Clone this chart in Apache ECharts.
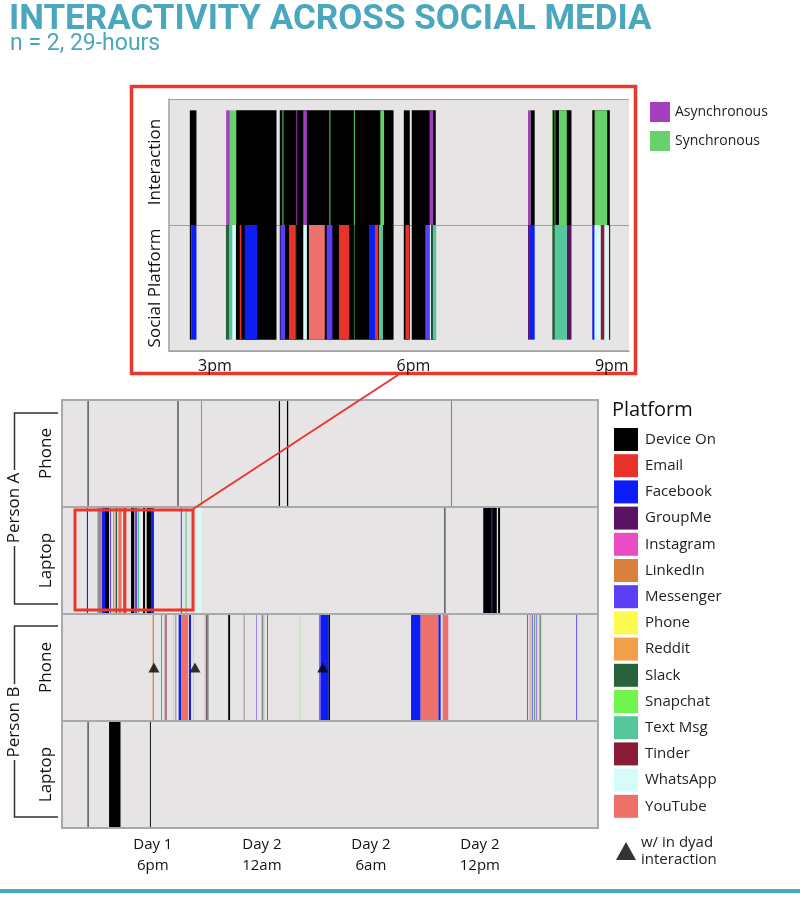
<!DOCTYPE html>
<html>
<head>
<meta charset="utf-8">
<title>Interactivity across social media</title>
<script src="https://cdn.jsdelivr.net/npm/echarts@6.0.0/dist/echarts.min.js"></script>
<style>
  html, body { margin: 0; padding: 0; background: #fff; }
  #chart { width: 800px; height: 898px; }
</style>
</head>
<body>
<div id="chart"></div>
<script>
// platforms and their colours (legend order)
var platforms = ['Device On', 'Email', 'Facebook', 'GroupMe', 'Instagram', 'LinkedIn', 'Messenger',
  'Phone', 'Reddit', 'Slack', 'Snapchat', 'Text Msg', 'Tinder', 'WhatsApp', 'YouTube'];
var platformColors = ['#000000', '#e8332a', '#0a1ef5', '#5b1262', '#e94cc4', '#d8803c', '#5b3ef6',
  '#fcf94f', '#f29f4b', '#27633a', '#70f54c', '#56c79b', '#8b1c36', '#d5fcfb', '#ee706b'];

var interactionTypes = ['Device On', 'Asynchronous', 'Synchronous'];
var interactionColors = ['#000000', '#a53dbf', '#67d26a'];

// rows of the main timeline (top to bottom)
var rowLabels = ['Phone', 'Laptop', 'Phone', 'Laptop'];
var insetRows = ['Interaction', 'Social Platform'];

// sessions: [start hour, end hour, platform], hours counted from Day 1 midnight
var aPhone = [
  [14.41, 14.46, 'Device On'], [19.36, 19.41, 'Device On'], [20.68, 20.70, 'Device On'],
  [24.93, 25.00, 'Device On'], [25.38, 25.45, 'Device On'], [34.42, 34.46, 'Messenger']
];
var aLaptop = [
  [14.37, 14.43, 'Facebook'], [14.97, 15.00, 'Device On'], [15.06, 15.12, 'Tinder'],
  [15.18, 15.37, 'Facebook'], [15.37, 15.59, 'Device On'], [15.64, 15.70, 'Messenger'],
  [15.82, 15.88, 'YouTube'], [15.95, 16.03, 'Slack'], [16.10, 16.28, 'YouTube'],
  [16.37, 16.54, 'Email'], [16.80, 16.98, 'Device On'], [17.02, 17.13, 'Messenger'],
  [17.17, 17.24, 'Text Msg'], [17.35, 17.42, 'WhatsApp'], [17.46, 17.57, 'Device On'],
  [17.66, 17.94, 'Device On'], [17.94, 18.06, 'Facebook'], [19.54, 19.60, 'Messenger'],
  [19.80, 19.86, 'Text Msg'], [20.41, 20.69, 'WhatsApp'], [34.05, 34.10, 'Device On'],
  [36.19, 36.93, 'Device On'], [36.19, 36.23, 'Facebook'], [36.64, 36.68, 'Messenger'],
  [37.00, 37.11, 'Device On']
];
var bPhone = [
  [17.99, 18.06, 'LinkedIn'], [18.47, 18.50, 'Tinder'], [18.66, 18.69, 'Device On'],
  [18.74, 18.77, 'Tinder'], [19.12, 19.15, 'Snapchat'], [19.26, 19.28, 'Device On'],
  [19.42, 19.57, 'Facebook'], [19.60, 19.95, 'YouTube'], [19.99, 20.10, 'Facebook'],
  [20.22, 20.25, 'Snapchat'], [20.86, 20.89, 'YouTube'], [20.95, 20.99, 'Device On'],
  [21.02, 21.05, 'Device On'], [22.15, 22.25, 'Device On'], [23.01, 23.03, 'Device On'],
  [23.70, 23.73, 'Messenger'], [24.00, 24.03, 'Device On'], [24.09, 24.13, 'Text Msg'],
  [24.29, 24.33, 'Slack'], [26.08, 26.11, 'Snapchat'], [27.16, 27.24, 'Messenger'],
  [27.24, 27.66, 'Facebook'], [27.66, 27.75, 'Device On'], [32.21, 32.74, 'Facebook'],
  [32.74, 33.71, 'YouTube'], [33.71, 33.84, 'Facebook'], [33.95, 34.26, 'YouTube'],
  [38.60, 38.65, 'Messenger'], [38.74, 38.78, 'LinkedIn'], [38.86, 38.90, 'Facebook'],
  [39.00, 39.04, 'Slack'], [39.11, 39.15, 'Messenger'], [39.25, 39.29, 'LinkedIn'],
  [39.33, 39.37, 'Slack'], [41.30, 41.35, 'Messenger']
];
var bLaptop = [
  [14.41, 14.46, 'Device On'], [15.59, 16.22, 'Device On'], [17.84, 17.89, 'Device On']
];
// interactions with the other person of the dyad (Person B phone)
var dyadTimes = [18.06, 20.32, 27.35];

// zoomed view, clock hours on Day 1
var insetInteraction = [
  [14.62, 14.72, 'Device On'], [15.32, 15.93, 'Device On'], [15.98, 17.70, 'Device On'],
  [17.855, 17.945, 'Device On'], [17.975, 18.338, 'Device On'], [19.77, 19.834, 'Device On'],
  [20.10, 20.39, 'Device On'], [20.705, 20.97, 'Device On'],
  [15.17, 15.225, 'Asynchronous'], [16.23, 16.245, 'Asynchronous'], [16.335, 16.39, 'Asynchronous'],
  [18.245, 18.30, 'Asynchronous'], [19.733, 19.77, 'Asynchronous'],
  [15.225, 15.32, 'Synchronous'], [16.02, 16.035, 'Synchronous'], [16.73, 16.745, 'Synchronous'],
  [17.10, 17.115, 'Synchronous'], [17.50, 17.557, 'Synchronous'], [20.10, 20.112, 'Synchronous'],
  [20.135, 20.148, 'Synchronous'], [20.20, 20.32, 'Synchronous'], [20.74, 20.93, 'Synchronous']
];
var insetPlatform = [
  [14.62, 14.64, 'Device On'], [15.315, 15.93, 'Device On'], [15.98, 17.70, 'Device On'],
  [17.855, 17.945, 'Device On'], [17.975, 18.338, 'Device On'], [20.96, 20.975, 'Device On'],
  [14.64, 14.72, 'Facebook'], [15.166, 15.22, 'Slack'], [15.22, 15.265, 'Text Msg'],
  [15.265, 15.315, 'WhatsApp'], [15.375, 15.40, 'Email'], [15.45, 15.64, 'Facebook'],
  [15.99, 16.06, 'Messenger'], [16.12, 16.21, 'Email'], [16.21, 16.23, 'Slack'],
  [16.335, 16.39, 'WhatsApp'], [16.42, 16.66, 'YouTube'], [16.69, 16.775, 'Messenger'],
  [16.875, 17.03, 'Email'], [17.10, 17.118, 'Slack'], [17.33, 17.42, 'Facebook'],
  [17.42, 17.47, 'Email'], [17.48, 17.54, 'Text Msg'], [17.88, 17.935, 'Email'],
  [18.18, 18.24, 'Messenger'], [18.245, 18.27, 'WhatsApp'], [18.29, 18.345, 'Text Msg'],
  [19.733, 19.75, 'GroupMe'], [19.75, 19.834, 'Facebook'], [20.10, 20.14, 'Slack'],
  [20.14, 20.32, 'Text Msg'], [20.32, 20.39, 'GroupMe'], [20.705, 20.74, 'Facebook'],
  [20.74, 20.83, 'WhatsApp'], [20.83, 20.89, 'Tinder'], [20.89, 20.94, 'WhatsApp']
];

var mainTicks = [18, 24, 30, 36];
var mainTickLabels = ['Day 1\n6pm', 'Day 2\n12am', 'Day 2\n6am', 'Day 2\n12pm'];
var insetTicks = [15, 18, 21];
var insetTickLabels = ['3pm', '6pm', '9pm'];

var teal = '#4aa7bd';
var red = '#e8382b';
var font = "'Open Sans', 'Noto Sans', sans-serif";

function mainBar(params, api) {
  var a = api.coord([api.value(1), api.value(0)]);
  var b = api.coord([api.value(2), api.value(0)]);
  var h = api.size([0, 1])[1];
  return {
    type: 'rect',
    shape: { x: a[0], y: a[1] - h / 2 + 1, width: b[0] - a[0], height: h - 2 },
    style: { fill: api.visual('color') }
  };
}

function insetBar(params, api) {
  var row = api.value(0);
  var a = api.coord([api.value(1), row]);
  var b = api.coord([api.value(2), row]);
  var h = api.size([0, 1])[1];
  var top = a[1] - h / 2;
  var pad = h * 0.09;
  return {
    type: 'rect',
    shape: {
      x: a[0], y: row === 0 ? top + pad : top,
      width: b[0] - a[0], height: h - pad
    },
    style: { fill: api.visual('color') }
  };
}

function pick(list, name, row) {
  return list.filter(function (s) { return s[2] === name; })
    .map(function (s) { return [row, s[0], s[1]]; });
}

var series = [];
// inset: interaction row
interactionTypes.forEach(function (name, i) {
  series.push({
    type: 'custom', name: name, xAxisIndex: 0, yAxisIndex: 0, renderItem: insetBar,
    encode: { x: [1, 2], y: 0 }, itemStyle: { color: interactionColors[i] },
    data: pick(insetInteraction, name, 0)
  });
});
// inset: platform row
platforms.forEach(function (name, i) {
  series.push({
    type: 'custom', name: name, xAxisIndex: 0, yAxisIndex: 0, renderItem: insetBar,
    encode: { x: [1, 2], y: 0 }, itemStyle: { color: platformColors[i] },
    data: pick(insetPlatform, name, 1)
  });
});
// main timeline
var mainRows = [aPhone, aLaptop, bPhone, bLaptop];
platforms.forEach(function (name, i) {
  var data = [];
  mainRows.forEach(function (segs, r) { data = data.concat(pick(segs, name, r)); });
  series.push({
    type: 'custom', name: name, xAxisIndex: 1, yAxisIndex: 1, renderItem: mainBar,
    encode: { x: [1, 2], y: 0 }, itemStyle: { color: platformColors[i] }, data: data
  });
});
series.push({
  type: 'scatter', name: 'w/ in dyad interaction', xAxisIndex: 1, yAxisIndex: 1,
  symbol: 'triangle', symbolSize: [11, 10], itemStyle: { color: '#000' }, z: 5,
  data: dyadTimes.map(function (t) { return [t, 2]; })
});

function bracket(top, bottom, gapTop, gapBottom) {
  return [
    { type: 'polyline', shape: { points: [[58, top], [14.5, top], [14.5, gapTop]] },
      style: { stroke: '#333', lineWidth: 1.5, fill: null } },
    { type: 'polyline', shape: { points: [[14.5, gapBottom], [14.5, bottom], [58, bottom]] },
      style: { stroke: '#333', lineWidth: 1.5, fill: null } }
  ];
}

var chart = echarts.init(document.getElementById('chart'));
chart.setOption({
  animation: false,
  textStyle: { fontFamily: font },
  title: [
    { text: 'INTERACTIVITY ACROSS SOCIAL MEDIA', left: 9, top: 3, padding: 0,
      textStyle: { fontSize: 35, fontWeight: 'bold', color: teal, fontFamily: 'Roboto' } },
    { text: 'n = 2, 29-hours', left: 10, top: 33, padding: 0,
      textStyle: { fontSize: 23, fontWeight: 'normal', color: teal, fontFamily: 'Roboto' } },
    { text: 'Platform', left: 612, top: 400, padding: 0,
      textStyle: { fontSize: 20, fontWeight: 'normal', color: '#111' } }
  ],
  legend: [
    { data: platforms, orient: 'vertical', left: 614, top: 428, padding: 0,
      itemWidth: 24, itemHeight: 23, itemGap: 3.2, icon: 'rect', selectedMode: false,
      textStyle: { fontSize: 15, color: '#222', padding: [0, 0, 0, 2] } },
    { data: interactionTypes.slice(1), orient: 'vertical', left: 650, top: 102, padding: 0,
      itemWidth: 20, itemHeight: 20, itemGap: 9, icon: 'rect', selectedMode: false,
      textStyle: { fontSize: 14, color: '#222' } },
    { data: ['w/ in dyad interaction'], left: 616, top: 834, padding: 0,
      itemWidth: 20, itemHeight: 18, selectedMode: false,
      formatter: function () { return 'w/ in dyad\ninteraction'; },
      textStyle: { fontSize: 15, color: '#222', lineHeight: 17 } }
  ],
  grid: [
    { left: 169, top: 99, width: 460, height: 252, show: true, backgroundColor: '#e6e4e5',
      borderWidth: 0, outerBoundsMode: 'none' },
    { left: 62, top: 400, width: 536, height: 428, show: true, backgroundColor: '#e6e4e5',
      borderColor: '#a9a9a9', borderWidth: 2, outerBoundsMode: 'none' }
  ],
  xAxis: [
    { type: 'value', gridIndex: 0, min: 14.305, max: 21.26,
      axisLine: { show: true, lineStyle: { color: '#a0a0a0', width: 1.5 } },
      axisTick: { show: false }, splitLine: { show: false },
      axisLabel: { customValues: insetTicks, fontSize: 16, color: '#111', margin: 7,
        formatter: function (v) { return insetTickLabels[insetTicks.indexOf(v)]; } } },
    { type: 'value', gridIndex: 1, min: 13, max: 42.5,
      axisLine: { show: false }, axisTick: { show: false }, splitLine: { show: false },
      axisLabel: { customValues: mainTicks, fontSize: 15, color: '#111', margin: 6, lineHeight: 21,
        formatter: function (v) { return mainTickLabels[mainTicks.indexOf(v)]; } } }
  ],
  yAxis: [
    { type: 'category', gridIndex: 0, data: insetRows, inverse: true,
      axisLine: { show: true, lineStyle: { color: '#a0a0a0', width: 1.5 } },
      axisTick: { show: false },
      splitLine: { show: true, lineStyle: { color: '#a0a0a0', width: 1 } },
      axisLabel: { rotate: 90, interval: 0, fontSize: 17, color: '#111', margin: 5 } },
    { type: 'category', gridIndex: 1, data: ['A Phone', 'A Laptop', 'B Phone', 'B Laptop'], inverse: true,
      axisLine: { show: false }, axisTick: { show: false },
      splitLine: { show: true, lineStyle: { color: '#a9a9a9', width: 2 } },
      axisLabel: { rotate: 90, interval: 0, fontSize: 17, color: '#111', margin: 7,
        formatter: function (v, i) { return rowLabels[i]; } } }
  ],
  graphic: [
    { type: 'rect', shape: { x: 131.5, y: 86.5, width: 504, height: 287 },
      style: { fill: null, stroke: red, lineWidth: 3.5 } },
    { type: 'rect', shape: { x: 75, y: 510, width: 118, height: 100 }, z: 10,
      style: { fill: null, stroke: red, lineWidth: 3 } },
    { type: 'line', shape: { x1: 193, y1: 509, x2: 398, y2: 375 }, z: 10,
      style: { stroke: red, lineWidth: 2 } },
    { type: 'rect', shape: { x: 0, y: 889, width: 800, height: 4 }, style: { fill: teal } },
    { type: 'text', x: 14, y: 508, rotation: Math.PI / 2,
      style: { text: 'Person A', fontSize: 17, fill: '#111', align: 'center', verticalAlign: 'middle', fontFamily: font } },
    { type: 'text', x: 14, y: 722, rotation: Math.PI / 2,
      style: { text: 'Person B', fontSize: 17, fill: '#111', align: 'center', verticalAlign: 'middle', fontFamily: font } }
  ].concat(bracket(413, 604, 470, 546), bracket(626, 817, 684, 760)),
  series: series
});
</script>
</body>
</html>
